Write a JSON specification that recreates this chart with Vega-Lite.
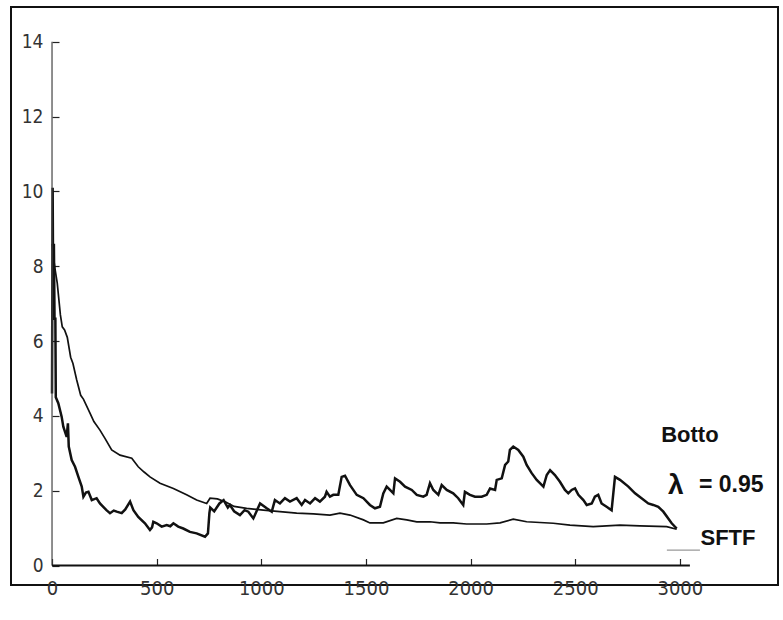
{
  "$schema": "https://vega.github.io/schema/vega-lite/v6.json",
  "width": 767,
  "height": 578,
  "autosize": {"type": "none"},
  "padding": {"left": 11, "top": 7, "right": 5, "bottom": 35},
  "background": "white",
  "config": {
    "view": {"stroke": "#111", "strokeWidth": 2},
    "axis": {"grid": false, "domain": false, "title": null, "tickColor": "#222", "tickWidth": 1.2, "labelColor": "#333", "labelFont": "DejaVu Sans Condensed, Liberation Sans", "format": "d"}
  },
  "datasets": {
    "botto": [
      {"x":0,"y":4.6},{"x":3,"y":10.1},{"x":6,"y":6.8},{"x":9,"y":8.6},{"x":12,"y":6.6},{"x":16,"y":6.6},{"x":18,"y":4.5},{"x":30,"y":4.34},{"x":46,"y":3.98},{"x":54,"y":3.71},{"x":70,"y":3.44},{"x":76,"y":3.8},{"x":80,"y":3.18},{"x":94,"y":2.82},{"x":110,"y":2.64},{"x":126,"y":2.37},{"x":142,"y":2.11},{"x":150,"y":1.84},{"x":162,"y":1.95},{"x":174,"y":1.97},{"x":190,"y":1.75},{"x":213,"y":1.8},{"x":229,"y":1.66},{"x":245,"y":1.57},{"x":260,"y":1.48},{"x":277,"y":1.4},{"x":295,"y":1.47},{"x":309,"y":1.44},{"x":333,"y":1.4},{"x":350,"y":1.5},{"x":373,"y":1.71},{"x":389,"y":1.48},{"x":412,"y":1.3},{"x":444,"y":1.13},{"x":468,"y":0.95},{"x":478,"y":1.02},{"x":484,"y":1.17},{"x":500,"y":1.13},{"x":524,"y":1.04},{"x":548,"y":1.08},{"x":565,"y":1.05},{"x":580,"y":1.13},{"x":603,"y":1.04},{"x":627,"y":0.99},{"x":659,"y":0.9},{"x":691,"y":0.86},{"x":731,"y":0.77},{"x":745,"y":0.86},{"x":752,"y":1.4},{"x":756,"y":1.55},{"x":775,"y":1.45},{"x":800,"y":1.66},{"x":820,"y":1.75},{"x":840,"y":1.55},{"x":850,"y":1.62},{"x":870,"y":1.45},{"x":898,"y":1.35},{"x":920,"y":1.48},{"x":938,"y":1.44},{"x":962,"y":1.26},{"x":994,"y":1.66},{"x":1026,"y":1.53},{"x":1050,"y":1.44},{"x":1065,"y":1.75},{"x":1089,"y":1.66},{"x":1113,"y":1.8},{"x":1137,"y":1.71},{"x":1169,"y":1.8},{"x":1193,"y":1.62},{"x":1209,"y":1.75},{"x":1233,"y":1.66},{"x":1257,"y":1.8},{"x":1280,"y":1.71},{"x":1304,"y":1.84},{"x":1312,"y":1.97},{"x":1328,"y":1.84},{"x":1344,"y":1.89},{"x":1368,"y":1.89},{"x":1384,"y":2.37},{"x":1400,"y":2.4},{"x":1424,"y":2.15},{"x":1456,"y":1.89},{"x":1488,"y":1.8},{"x":1519,"y":1.62},{"x":1543,"y":1.53},{"x":1567,"y":1.57},{"x":1583,"y":1.93},{"x":1599,"y":2.11},{"x":1615,"y":2.02},{"x":1631,"y":1.93},{"x":1639,"y":2.33},{"x":1663,"y":2.24},{"x":1687,"y":2.11},{"x":1719,"y":2.02},{"x":1743,"y":1.89},{"x":1774,"y":1.84},{"x":1790,"y":1.89},{"x":1806,"y":2.2},{"x":1822,"y":2.02},{"x":1846,"y":1.89},{"x":1862,"y":2.15},{"x":1886,"y":2.02},{"x":1917,"y":1.93},{"x":1941,"y":1.8},{"x":1965,"y":1.62},{"x":1973,"y":1.97},{"x":1997,"y":1.89},{"x":2021,"y":1.84},{"x":2053,"y":1.84},{"x":2077,"y":1.89},{"x":2093,"y":2.06},{"x":2117,"y":2.02},{"x":2125,"y":2.29},{"x":2149,"y":2.33},{"x":2165,"y":2.69},{"x":2180,"y":2.78},{"x":2188,"y":3.09},{"x":2204,"y":3.18},{"x":2228,"y":3.09},{"x":2252,"y":2.91},{"x":2268,"y":2.69},{"x":2292,"y":2.47},{"x":2316,"y":2.29},{"x":2348,"y":2.11},{"x":2364,"y":2.42},{"x":2380,"y":2.55},{"x":2403,"y":2.42},{"x":2427,"y":2.24},{"x":2451,"y":2.02},{"x":2467,"y":1.93},{"x":2483,"y":2.02},{"x":2499,"y":2.06},{"x":2515,"y":1.89},{"x":2539,"y":1.75},{"x":2555,"y":1.62},{"x":2579,"y":1.66},{"x":2594,"y":1.84},{"x":2610,"y":1.89},{"x":2626,"y":1.66},{"x":2650,"y":1.57},{"x":2674,"y":1.48},{"x":2690,"y":2.37},{"x":2714,"y":2.29},{"x":2754,"y":2.11},{"x":2786,"y":1.93},{"x":2817,"y":1.8},{"x":2849,"y":1.66},{"x":2873,"y":1.62},{"x":2897,"y":1.57},{"x":2921,"y":1.44},{"x":2961,"y":1.13},{"x":2985,"y":0.99}
    ],
    "sftf": [
      {"x":0,"y":8.6},{"x":8,"y":8.2},{"x":15,"y":7.9},{"x":25,"y":7.55},{"x":40,"y":6.7},{"x":49,"y":6.38},{"x":60,"y":6.3},{"x":73,"y":6.1},{"x":89,"y":5.57},{"x":100,"y":5.4},{"x":118,"y":4.96},{"x":137,"y":4.55},{"x":150,"y":4.45},{"x":182,"y":4.07},{"x":200,"y":3.85},{"x":229,"y":3.62},{"x":253,"y":3.4},{"x":285,"y":3.09},{"x":325,"y":2.95},{"x":381,"y":2.87},{"x":412,"y":2.64},{"x":440,"y":2.5},{"x":468,"y":2.37},{"x":516,"y":2.2},{"x":580,"y":2.06},{"x":643,"y":1.89},{"x":691,"y":1.75},{"x":739,"y":1.66},{"x":755,"y":1.8},{"x":790,"y":1.78},{"x":830,"y":1.7},{"x":870,"y":1.58},{"x":930,"y":1.53},{"x":1010,"y":1.48},{"x":1089,"y":1.44},{"x":1169,"y":1.4},{"x":1249,"y":1.38},{"x":1328,"y":1.35},{"x":1376,"y":1.4},{"x":1424,"y":1.35},{"x":1488,"y":1.22},{"x":1519,"y":1.14},{"x":1583,"y":1.14},{"x":1647,"y":1.26},{"x":1695,"y":1.22},{"x":1743,"y":1.17},{"x":1806,"y":1.17},{"x":1854,"y":1.14},{"x":1917,"y":1.14},{"x":1981,"y":1.11},{"x":2077,"y":1.11},{"x":2141,"y":1.14},{"x":2204,"y":1.24},{"x":2268,"y":1.17},{"x":2395,"y":1.13},{"x":2475,"y":1.08},{"x":2586,"y":1.04},{"x":2714,"y":1.08},{"x":2809,"y":1.06},{"x":2937,"y":1.04},{"x":2985,"y":0.97}
    ]
  },
  "layer": [
    {
      "data": {"name": "sftf"},
      "mark": {"type": "line", "color": "#111", "strokeWidth": 1.7},
      "encoding": {
        "x": {"field": "x", "type": "quantitative", "scale": {"domain": [-196, 3469], "nice": false, "zero": false},
              "axis": {"orient": "bottom", "offset": -19.5, "values": [0,500,1000,1500,2000,2500,3000], "tickSize": -7, "labelPadding": 20, "labelFontSize": 20}},
        "y": {"field": "y", "type": "quantitative", "scale": {"domain": [-0.52, 14.93], "nice": false, "zero": false},
              "axis": {"orient": "left", "offset": -41, "values": [0,2,4,6,8,10,12,14], "tickSize": -7, "labelPadding": 16, "labelFontSize": 19}}
      }
    },
    {
      "data": {"name": "botto"},
      "mark": {"type": "line", "color": "#111", "strokeWidth": 2.5},
      "encoding": {
        "x": {"field": "x", "type": "quantitative"},
        "y": {"field": "y", "type": "quantitative"}
      }
    },
    {
      "data": {"values": [{}]},
      "mark": {"type": "rule", "color": "#444", "strokeWidth": 1.2},
      "encoding": {"x": {"datum": 0, "type": "quantitative"}, "y": {"datum": 0, "type": "quantitative"}, "y2": {"datum": 14}}
    },
    {
      "data": {"values": [{}]},
      "mark": {"type": "rule", "color": "#111", "strokeWidth": 2},
      "encoding": {"y": {"datum": 0, "type": "quantitative"}, "x": {"datum": 0, "type": "quantitative"}, "x2": {"datum": 3048}}
    },
    {
      "data": {"values": [{}]},
      "mark": {"type": "rule", "color": "#999", "strokeWidth": 1.3},
      "encoding": {"y": {"datum": 0.41, "type": "quantitative"}, "x": {"datum": 2938, "type": "quantitative"}, "x2": {"datum": 3096}}
    },
    {
      "data": {"values": [{"label": "Botto"}]},
      "mark": {"type": "text", "font": "Liberation Sans", "fontWeight": "bold", "fontSize": 22, "color": "#111", "align": "center", "baseline": "middle"},
      "encoding": {"text": {"field": "label"}, "x": {"datum": 3048, "type": "quantitative"}, "y": {"datum": 3.5, "type": "quantitative"}}
    },
    {
      "data": {"values": [{"label": "λ"}]},
      "mark": {"type": "text", "font": "Liberation Sans", "fontWeight": "bold", "fontSize": 28, "color": "#111", "align": "center", "baseline": "middle"},
      "encoding": {"text": {"field": "label"}, "x": {"datum": 2981, "type": "quantitative"}, "y": {"datum": 2.13, "type": "quantitative"}}
    },
    {
      "data": {"values": [{"label": "= 0.95"}]},
      "mark": {"type": "text", "font": "Liberation Sans", "fontWeight": "bold", "fontSize": 23, "color": "#111", "align": "left", "baseline": "middle"},
      "encoding": {"text": {"field": "label"}, "x": {"datum": 3091, "type": "quantitative"}, "y": {"datum": 2.15, "type": "quantitative"}}
    },
    {
      "data": {"values": [{"label": "SFTF"}]},
      "mark": {"type": "text", "font": "Liberation Sans", "fontWeight": "bold", "fontSize": 22, "color": "#111", "align": "center", "baseline": "middle"},
      "encoding": {"text": {"field": "label"}, "x": {"datum": 3230, "type": "quantitative"}, "y": {"datum": 0.74, "type": "quantitative"}}
    }
  ]
}
